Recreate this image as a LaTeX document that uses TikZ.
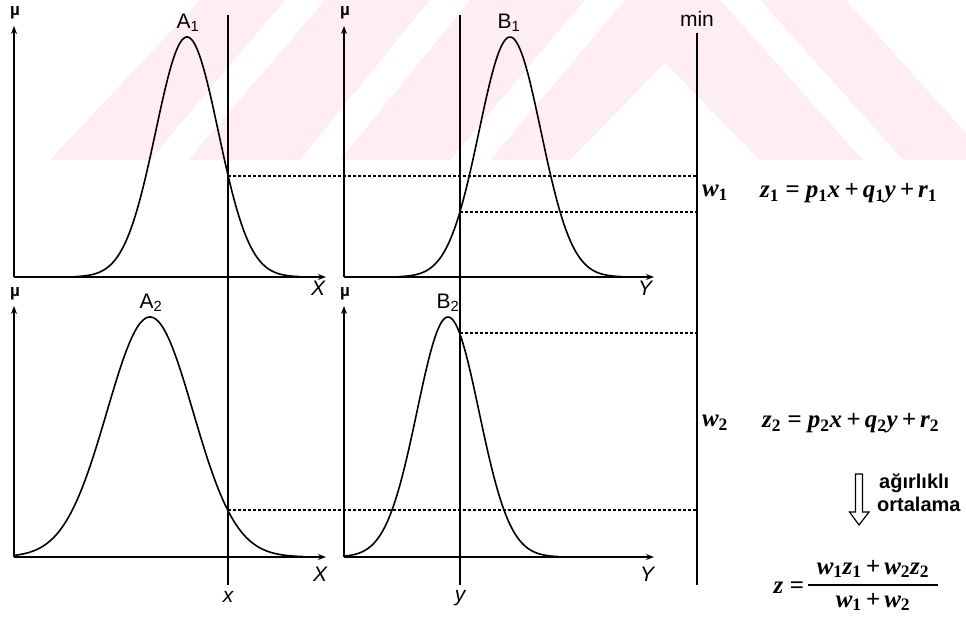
\documentclass[tikz,border=0pt]{standalone}
\usepackage{fontspec}
\setmainfont{Liberation Serif}
\setsansfont{Liberation Sans}
\usetikzlibrary{arrows.meta}
\definecolor{wm}{RGB}{254,237,241}
\newcommand{\vv}[2]{#1\textsubscript{\upshape\bfseries #2}}
\begin{document}
\begin{tikzpicture}[x=1pt,y=-1pt,
  ax/.style={line width=1.8pt,-{Stealth[length=8pt,width=6pt]}},
  curve/.style={line width=1.6pt},
  vline/.style={line width=1.4pt},
  minline/.style={line width=2.4pt},
  dashline/.style={line width=1.5pt, dash pattern=on 3pt off 2pt},
  lbl/.style={font=\fontsize{21}{23}\selectfont\sffamily, inner sep=0pt},
  axl/.style={font=\fontsize{21}{23}\selectfont\sffamily\itshape, inner sep=0pt},
  mu/.style={font=\fontsize{17}{18}\selectfont\sffamily\bfseries, inner sep=0pt},
  eq/.style={font=\fontsize{25}{27}\selectfont\bfseries\itshape, inner sep=0pt},
  note/.style={font=\fontsize{20}{22}\selectfont\sffamily\bfseries, inner sep=0pt, anchor=west},
]
\useasboundingbox (0,0) rectangle (966,621);
% watermark
\fill[wm] (50,160) -- (200,0) -- (966,0) -- (966,160) -- cycle;
\fill[white] (150,160) -- (188,160) -- (325,0) -- (285,0) -- cycle;
\fill[white] (300,160) -- (340,160) -- (470,0) -- (430,0) -- cycle;
\fill[white] (450,160) -- (490,160) -- (625,0) -- (585,0) -- cycle;
\fill[white] (570,160) -- (665,63) -- (760,160) -- cycle;
\fill[white] (720,0) -- (760,0) -- (903,160) -- (863,160) -- cycle;
\fill[white] (846,0) -- (966,0) -- (966,133) -- cycle;

% coordinates
\coordinate (oA1) at (14,277);  \coordinate (tA1) at (14,26);  \coordinate (eA1) at (326,277);
\coordinate (oB1) at (344,277); \coordinate (tB1) at (344,26); \coordinate (eB1) at (654,277);
\coordinate (oA2) at (14,557);  \coordinate (tA2) at (14,306); \coordinate (eA2) at (326,557);
\coordinate (oB2) at (344,557); \coordinate (tB2) at (344,306); \coordinate (eB2) at (654,557);
\coordinate (xtop) at (228,15);  \coordinate (xbot) at (228,585);
\coordinate (ytop) at (460,15);  \coordinate (ybot) at (460,585);
\coordinate (mtop) at (697,33);  \coordinate (mbot) at (697,585);
\coordinate (cA1) at (228,176); \coordinate (mA1) at (697,176);
\coordinate (cB1) at (460,212); \coordinate (mB1) at (697,212);
\coordinate (cB2) at (460,333); \coordinate (mB2) at (697,333);
\coordinate (cA2) at (228,510); \coordinate (mA2) at (697,510);

% axes
\draw[ax] (oA1) -- (tA1); \draw[ax] (oA1) -- (eA1);
\draw[ax] (oB1) -- (tB1); \draw[ax] (oB1) -- (eB1);
\draw[ax] (oA2) -- (tA2); \draw[ax] (oA2) -- (eA2);
\draw[ax] (oB2) -- (tB2); \draw[ax] (oB2) -- (eB2);

% membership curves
\draw[curve] plot[domain=75:300,samples=120] (\x,{277-240*exp(-0.5*((\x-187)/31.3)^2)});
\draw[curve] plot[domain=398:622,samples=120] (\x,{277-240*exp(-0.5*((\x-510)/31)^2)});
\draw[curve] plot[domain=14:305,samples=150] (\x,{557-240*exp(-0.5*((\x-150)/43)^2)});
\draw[curve] plot[domain=345:560,samples=120] (\x,{557-240*exp(-0.5*((\x-448)/31)^2)});

% vertical lines
\draw[vline] (xtop) -- (xbot);
\draw[vline] (ytop) -- (ybot);
\draw[minline] (mtop) -- (mbot);

% dashed projections
\draw[dashline] (cA1) -- (mA1);
\draw[dashline] (cB1) -- (mB1);
\draw[dashline] (cB2) -- (mB2);
\draw[dashline] (cA2) -- (mA2);

% labels
\node[mu] (muA1) at (15,13) {µ};
\node[mu] (muB1) at (345,13) {µ};
\node[mu] (muA2) at (15,294) {µ};
\node[mu] (muB2) at (345,294) {µ};
\node[lbl] (lA1) at (188,23) {A\textsubscript{1}};
\node[lbl] (lB1) at (509,23) {B\textsubscript{1}};
\node[lbl] (lA2) at (151,303) {A\textsubscript{2}};
\node[lbl] (lB2) at (448,303) {B\textsubscript{2}};
\node[lbl] (lmin) at (697,19) {min};
\node[axl] (lX1) at (318,288) {X};
\node[axl] (lY1) at (645,288) {Y};
\node[axl] (lX2) at (320,574) {X};
\node[axl] (lY2) at (647,574) {Y};
\node[axl] (lx) at (228,597) {x};
\node[axl] (ly) at (460,598) {y};

% rule consequents
\node[eq] (w1) at (715,193) {\vv{w}{1}};
\node[eq] (w2) at (715,423) {\vv{w}{2}};
\node[eq,anchor=west] (z1) at (760,193) {\vv{z}{1}\ =\ \vv{p}{1}x\,+\,\vv{q}{1}y\,+\,\vv{r}{1}};
\node[eq,anchor=west] (z2) at (762,423) {\vv{z}{2}\ =\ \vv{p}{2}x\,+\,\vv{q}{2}y\,+\,\vv{r}{2}};

% hollow arrow
\draw[line width=1.2pt] (855.5,474) -- (862.5,474) -- (862.5,512) -- (869,512) -- (859,525) -- (849.5,512) -- (855.5,512) -- cycle;
\node[note] (ag) at (879,483) {ağırlıklı};
\node[note] (ort) at (877,504) {ortalama};

% weighted average
\node[eq,anchor=east] (zeq) at (804,588) {z\ =};
\node[eq] (num) at (873,569) {\vv{w}{1}\vv{z}{1}\,+\,\vv{w}{2}\vv{z}{2}};
\node[eq] (den) at (873,602) {\vv{w}{1}\,+\,\vv{w}{2}};
\coordinate (barL) at (808,585); \coordinate (barR) at (938,585);
\draw[line width=1.4pt] (barL) -- (barR);
\end{tikzpicture}
\end{document}
